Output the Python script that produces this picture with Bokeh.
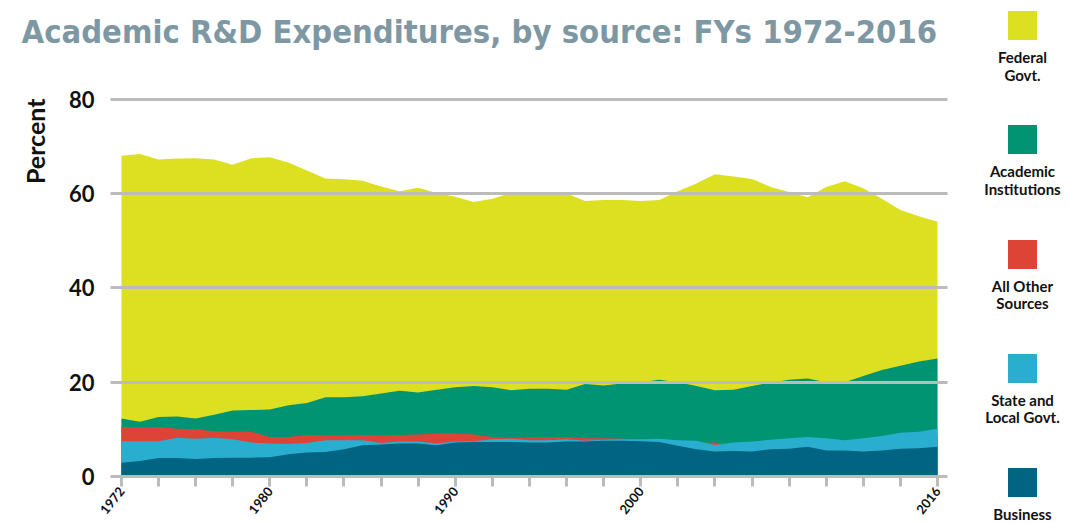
from bokeh.plotting import figure
from bokeh.models import Range1d, FixedTicker, Title, Div
from bokeh.layouts import row
from bokeh.embed import file_html
from bokeh.resources import INLINE

# ---------------- data ----------------
years = list(range(1972, 2017))

federal = [68.0, 68.4, 67.2, 67.4, 67.5, 67.2, 66.1, 67.5, 67.7, 66.6,
           64.9, 63.2, 63.0, 62.7, 61.5, 60.5, 61.2, 60.1, 59.3, 58.2,
           58.9, 60.1, 60.2, 60.1, 60.0, 58.4, 58.6, 58.6, 58.4, 58.6,
           60.5, 62.1, 64.1, 63.6, 63.1, 61.4, 60.3, 59.2, 61.4, 62.6,
           61.1, 58.9, 56.5, 55.2, 54.0]

academic = [12.3, 11.6, 12.6, 12.7, 12.3, 13.1, 14.0, 14.1, 14.2, 15.1,
            15.6, 16.8, 16.8, 17.0, 17.6, 18.2, 17.8, 18.4, 18.9, 19.2,
            18.9, 18.3, 18.6, 18.6, 18.4, 19.6, 19.3, 19.7, 20.0, 20.5,
            20.0, 19.2, 18.3, 18.4, 19.2, 19.9, 20.5, 20.8, 20.0, 20.0,
            21.3, 22.6, 23.5, 24.4, 25.0]

other = [10.5, 10.5, 10.5, 10.1, 10.0, 9.6, 9.5, 9.5, 8.4, 8.4,
         8.8, 8.7, 8.7, 8.8, 8.7, 8.8, 8.9, 9.1, 9.1, 8.9,
         8.4, 8.2, 8.3, 8.4, 8.4, 8.1, 8.1, 8.0, 7.8, 7.6,
         7.2, 7.0, 7.2, 6.6, 6.9, 7.2, 7.4, 7.6, 7.5, 7.2,
         7.4, 7.8, 8.1, 8.3, 8.6]

state_local = [7.5, 7.5, 7.5, 8.2, 8.0, 8.2, 7.9, 7.2, 7.0, 6.9,
               7.1, 7.7, 7.7, 7.7, 7.1, 7.4, 7.4, 7.0, 7.4, 7.5,
               7.9, 8.0, 7.7, 7.7, 7.9, 7.6, 7.8, 7.9, 7.9, 8.0,
               7.7, 7.6, 6.7, 7.2, 7.4, 7.8, 8.1, 8.4, 8.1, 7.7,
               8.1, 8.6, 9.3, 9.5, 10.1]

business = [2.9, 3.3, 3.9, 3.9, 3.7, 3.9, 4.0, 4.0, 4.1, 4.7,
            5.1, 5.2, 5.8, 6.6, 6.8, 7.0, 7.0, 6.6, 7.2, 7.3,
            7.3, 7.3, 7.2, 7.2, 7.4, 7.4, 7.6, 7.6, 7.5, 7.3,
            6.5, 5.8, 5.3, 5.4, 5.3, 5.8, 5.9, 6.3, 5.5, 5.5,
            5.3, 5.5, 5.9, 6.0, 6.3]

series_names = [["Federal", "Govt."], ["Academic", "Institutions"], ["All Other", "Sources"],
                ["State and", "Local Govt."], ["Business"]]
series_values = [federal, academic, other, state_local, business]
series_colors = ["#dce021", "#009473", "#dd4436", "#29aed0", "#006482"]

y_ticks = [0, 20, 40, 60, 80]
x_ticks = list(range(1972, 2017, 2))
x_labeled = [1972, 1980, 1990, 2000, 2016]

title_text = "Academic R&D Expenditures, by source: FYs 1972-2016"
y_title = "Percent"

# ---------------- layout constants ----------------
W_MAIN, H = 965, 521
BL, BR, BT, BB = 110, 18, 60, 42
X0, X1 = 1971.41, 2016.54
Y0, Y1 = 0, 88.2
FONT = "Lato"
GRID = "#bbbbbb"
INK = "#111111"

p = figure(width=W_MAIN, height=H, x_range=Range1d(X0, X1), y_range=Range1d(Y0, Y1),
           output_backend="svg", toolbar_location=None,
           min_border_left=BL, min_border_right=BR, min_border_top=BT, min_border_bottom=BB)
p.outline_line_color = None
p.xgrid.visible = False

p.title.text = title_text
p.title.align = "left"
p.title.offset = -89
p.title.standoff = 20
p.title.text_font = "DejaVu Sans Condensed"
p.title.text_font_style = "bold"
p.title.text_font_size = "32.5px"
p.title.text_color = "#7e98a3"

p.add_layout(Title(text=y_title, align="right", offset=38, text_font=FONT,
                   text_font_style="bold", text_font_size="25px", text_color=INK,
                   standoff=31), "left")

for vals, col in zip(series_values, series_colors):
    p.varea(x=years, y1=0, y2=vals, fill_color=col, fill_alpha=1.0)

p.ygrid.ticker = FixedTicker(ticks=y_ticks)
p.ygrid.grid_line_color = GRID
p.ygrid.grid_line_width = 3
p.ygrid.level = "annotation"

ya = p.yaxis[0]
ya.ticker = FixedTicker(ticks=y_ticks)
ya.axis_line_color = None
ya.major_tick_line_color = None
ya.minor_tick_line_color = None
ya.major_tick_out = 0
ya.major_label_standoff = 16
ya.major_label_text_font = FONT
ya.major_label_text_font_style = "bold"
ya.major_label_text_font_size = "22px"
ya.major_label_text_color = INK

xa = p.xaxis[0]
xa.ticker = FixedTicker(ticks=x_ticks)
xa.major_label_overrides = {t: ("" if t not in x_labeled else str(t)) for t in x_ticks}
xa.axis_line_color = GRID
xa.axis_line_width = 3
xa.major_tick_line_color = GRID
xa.major_tick_line_width = 3
xa.major_tick_out = 10
xa.major_tick_in = 0
xa.minor_tick_line_color = None
xa.major_label_orientation = 0.9
xa.major_label_standoff = 2
xa.major_label_text_font = FONT
xa.major_label_text_font_style = "bold"
xa.major_label_text_font_size = "13px"
xa.major_label_text_color = INK

# ---------------- legend panel (HTML) ----------------
W_LEG = 100
SQ = 29
SQ_LEFT = 43
SQ_TOP0 = 11
STEP = 114.3
items = []
for i, (lines, col) in enumerate(zip(series_names, series_colors)):
    top = SQ_TOP0 + i * STEP
    items.append(
        f'<div style="position:absolute;left:{SQ_LEFT}px;top:{top:.1f}px;width:{SQ}px;height:{SQ}px;'
        f'background:{col};"></div>'
        f'<div style="position:absolute;left:0px;top:{top + 38:.1f}px;width:{2 * SQ_LEFT + SQ}px;'
        f'text-align:center;font-family:{FONT};font-weight:bold;font-size:15px;line-height:17.5px;'
        f'color:{INK};white-space:nowrap;">' + "<br>".join(lines) + '</div>'
    )
legend_html = (f'<div style="position:relative;width:{W_LEG}px;height:{H}px;">'
               + "".join(items) + '</div>')
legend = Div(text=legend_html, width=W_LEG, height=H, margin=(0, 0, 0, 0))

layout = row(p, legend)
open("out.html", "w").write(file_html(layout, INLINE))
